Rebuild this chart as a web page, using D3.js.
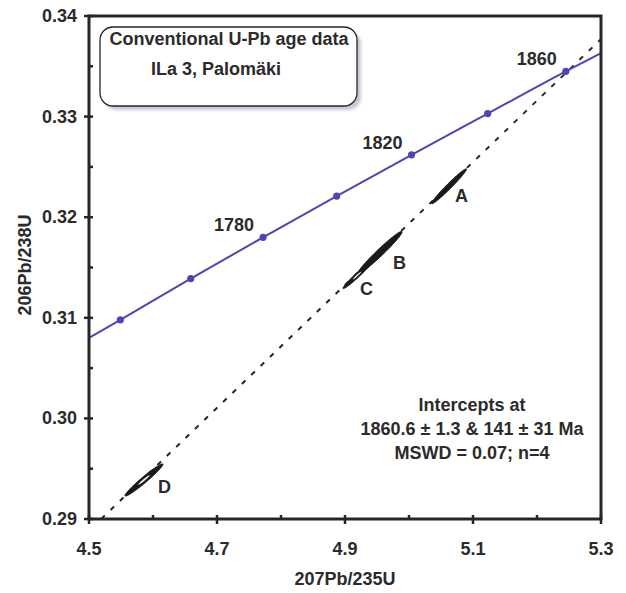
<!DOCTYPE html>
<html><head><meta charset="utf-8">
<script src="https://cdn.jsdelivr.net/npm/d3@7"></script>
<style>
body{margin:0;background:#fff;}
text{font-family:"Liberation Sans",Arial,sans-serif;font-weight:bold;fill:#2b2b2b;}
</style></head>
<body><svg id="c" width="626" height="593"></svg>
<script>
// ---- data ----
const xTicks = [4.5, 4.7, 4.9, 5.1, 5.3];
const xMinor = [4.6, 4.8, 5.0, 5.2];
const yTicks = [0.29, 0.30, 0.31, 0.32, 0.33, 0.34];
const yMinor = [0.295, 0.305, 0.315, 0.325, 0.335];
const yTickLabels = ["0.29", "0.30", "0.31", "0.32", "0.33", "0.34"];
// concordia curve (207Pb/235U, 206Pb/238U)
const concordiaX = [4.500, 4.549, 4.659, 4.772, 4.887, 5.004, 5.123, 5.245, 5.300];
const concordiaY = [0.3080, 0.3098, 0.3139, 0.3180, 0.3221, 0.3262, 0.3303, 0.3345, 0.3363];
// age markers on concordia
const markerAges = [1740, 1760, 1780, 1800, 1820, 1840, 1860];
const markerX = [4.549, 4.659, 4.772, 4.887, 5.004, 5.123, 5.245];
const markerY = [0.3098, 0.3139, 0.3180, 0.3221, 0.3262, 0.3303, 0.3345];
const labelledAges = [1780, 1820, 1860];
// discordia (dashed)
const discordiaX = [4.519, 5.300];
const discordiaY = [0.2900, 0.3377];
// analyses: centre, half-extent x, half-extent y, correlation
const fracNames = ["A", "B", "C", "D"];
const fracX = [5.0625, 4.9547, 4.9188, 4.5859];
const fracY = [0.32307, 0.31649, 0.31420, 0.29388];
const fracSX = [0.0273, 0.0345, 0.0220, 0.0297];
const fracSY = [0.00174, 0.00210, 0.00130, 0.00160];
const fracRho = [0.980, 0.976, 0.975, 0.972];
const titleLines = ["Conventional U-Pb age data", "ILa 3, Palomäki"];
const resultLines = ["Intercepts at", "1860.6 \u00b1 1.3 & 141 \u00b1 31 Ma", "MSWD = 0.07; n=4"];
const xTitle = "207Pb/235U", yTitle = "206Pb/238U";

// ---- drawing ----
const svg = d3.select("#c");
const L = 89, R = 601, T = 16, B = 519;
const x = d3.scaleLinear().domain([4.5, 5.3]).range([L, R]);
const y = d3.scaleLinear().domain([0.29, 0.34]).range([B, T]);
const ink = "#262626";

const defs = svg.append("defs");
const clip = defs.append("clipPath").attr("id", "pc");
clip.append("rect").attr("x", L).attr("y", T).attr("width", R - L).attr("height", B - T);
const f = defs.append("filter").attr("id", "sh").attr("x", "-10%").attr("y", "-10%").attr("width", "130%").attr("height", "140%");
f.append("feGaussianBlur").attr("stdDeviation", 1.5);

// legend box with shadow
svg.append("rect").attr("x", 104).attr("y", 31).attr("width", 257).attr("height", 79).attr("rx", 13)
  .attr("fill", "#c8c8d4").attr("filter", "url(#sh)");
svg.append("rect").attr("x", 100).attr("y", 27).attr("width", 257).attr("height", 79).attr("rx", 13)
  .attr("fill", "#fff").attr("stroke", ink).attr("stroke-width", 1.3);
svg.append("text").attr("x", 229).attr("y", 45).attr("text-anchor", "middle").attr("font-size", 18).text(titleLines[0]);
svg.append("text").attr("x", 216).attr("y", 75).attr("text-anchor", "middle").attr("font-size", 18).text(titleLines[1]);

const g = svg.append("g").attr("clip-path", "url(#pc)");

// discordia
g.append("path")
  .attr("d", d3.line()(discordiaX.map((d, i) => [x(d), y(discordiaY[i])])))
  .attr("fill", "none").attr("stroke", ink).attr("stroke-width", 2).attr("stroke-dasharray", "5,8");

// concordia
const purple = "#5442b4";
g.append("path")
  .attr("d", d3.line().curve(d3.curveMonotoneX)(concordiaX.map((d, i) => [x(d), y(concordiaY[i])])))
  .attr("fill", "none").attr("stroke", purple).attr("stroke-width", 2);
g.selectAll("circle.m").data(markerAges).join("circle")
  .attr("cx", (d, i) => x(markerX[i])).attr("cy", (d, i) => y(markerY[i])).attr("r", 3.6).attr("fill", purple);
svg.selectAll("text.age").data(labelledAges).join("text")
  .attr("x", d => x(markerX[markerAges.indexOf(d)]) - 29)
  .attr("y", d => y(markerY[markerAges.indexOf(d)]) - 6)
  .attr("text-anchor", "middle").attr("font-size", 18).text(d => d);

// ellipses
function ell(i, scale) {
  const pts = d3.range(0, 73).map(k => {
    const t = k / 72 * 2 * Math.PI;
    const r = fracRho[i];
    return [x(fracX[i] + scale * fracSX[i] * Math.cos(t)),
            y(fracY[i] + scale * fracSY[i] * (r * Math.cos(t) + Math.sqrt(1 - r * r) * Math.sin(t)))];
  });
  return d3.line()(pts) + "Z";
}
fracNames.forEach((n, i) => {
  g.append("path").attr("d", ell(i, 1)).attr("fill", "#1a1a1a").attr("stroke", "#1a1a1a").attr("stroke-width", 1);
});
[2, 3].forEach(i => {
  g.append("path").attr("d", ell(i, 0.3)).attr("fill", "#fff");
});
const labOff = [[6, 16], [13, 16], [3, 19], [14, 13]];
fracNames.forEach((n, i) => {
  svg.append("text").attr("x", x(fracX[i]) + labOff[i][0]).attr("y", y(fracY[i]) + labOff[i][1])
    .attr("font-size", 18).text(n);
});

// result text
resultLines.forEach((s, i) => {
  svg.append("text").attr("x", 472).attr("y", 411 + i * 24).attr("text-anchor", "middle").attr("font-size", 18).text(s);
});

// frame
svg.append("rect").attr("x", L).attr("y", T).attr("width", R - L).attr("height", B - T)
  .attr("fill", "none").attr("stroke", ink).attr("stroke-width", 3);

// ticks
svg.selectAll("line.xt").data(xTicks).join("line")
  .attr("x1", d => x(d)).attr("x2", d => x(d)).attr("y1", B - 4).attr("y2", B + 5)
  .attr("stroke", ink).attr("stroke-width", 2.5);
svg.selectAll("line.xm").data(xMinor).join("line")
  .attr("x1", d => x(d)).attr("x2", d => x(d)).attr("y1", B - 4).attr("y2", B)
  .attr("stroke", ink).attr("stroke-width", 2.5);
svg.selectAll("line.yt").data(yTicks).join("line")
  .attr("y1", d => y(d)).attr("y2", d => y(d)).attr("x1", L - 5).attr("x2", L + 4)
  .attr("stroke", ink).attr("stroke-width", 2.5);
svg.selectAll("line.ym").data(yMinor).join("line")
  .attr("y1", d => y(d)).attr("y2", d => y(d)).attr("x1", L).attr("x2", L + 4)
  .attr("stroke", ink).attr("stroke-width", 2.5);

svg.selectAll("text.xl").data(xTicks).join("text")
  .attr("x", d => x(d)).attr("y", 555).attr("text-anchor", "middle").attr("font-size", 18).text(d => d.toFixed(1));
svg.selectAll("text.yl").data(yTicks).join("text")
  .attr("x", 77).attr("y", d => y(d) + 6).attr("text-anchor", "end").attr("font-size", 18).text((d, i) => yTickLabels[i]);

svg.append("text").attr("x", 345).attr("y", 585).attr("text-anchor", "middle").attr("font-size", 18)
  .attr("font-weight", "normal").text(xTitle);
svg.append("text").attr("transform", "translate(31,265) rotate(-90)").attr("text-anchor", "middle")
  .attr("font-size", 18).attr("font-weight", "normal").text(yTitle);
</script></body></html>
